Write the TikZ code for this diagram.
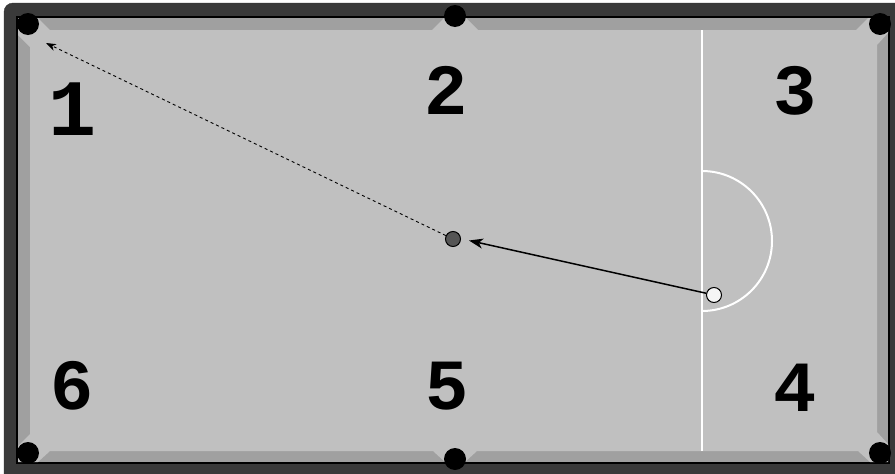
\documentclass[tikz,border=0pt]{standalone}
\usepackage{fontspec}
\newfontfamily\digitfont{Liberation Mono}
\usetikzlibrary{arrows.meta,positioning}
\definecolor{railgray}{RGB}{58,58,58}
\definecolor{cushgray}{RGB}{160,160,160}
\definecolor{feltgray}{RGB}{192,192,192}
\definecolor{ballgray}{RGB}{85,85,85}
\definecolor{cueball}{RGB}{245,245,245}

\begin{document}
\begin{tikzpicture}[x=1pt,y=-1pt,
  pocket/.style={circle,fill=black,minimum size=22pt,inner sep=0pt},
  ball/.style={circle,draw=black,line width=1pt,minimum size=15pt,inner sep=0pt},
  zonelabel/.style={font=\digitfont\bfseries\fontsize{72}{72}\selectfont,inner sep=0pt},
  shot/.style={line width=1.5pt,-{Stealth[length=14pt,width=10pt,inset=4pt]}},
  pottrace/.style={line width=0.9pt,dashed,dash pattern=on 3pt off 3pt,-{Stealth[length=10pt,width=7pt,inset=3pt]}}
]
  \useasboundingbox (0,0) rectangle (895,474);
  \clip (0,0) rectangle (895,474);
  % Table frame
  \fill[railgray,draw=black!80,rounded corners=9pt] (4,3) rectangle (910,490);
  \filldraw[fill=cushgray,draw=black,line width=2pt] (17,17) rectangle (889,463);
  % Playing surface
  \fill[feltgray] (50,30) -- (432,30) -- (444,18) -- (466,18) -- (478,30) -- (856,30)
    -- (868,18) -- (888,18) -- (888,33) -- (877,45) -- (877,432) -- (888,444)
    -- (888,462) -- (870,462) -- (858,451) -- (477,451) -- (465,462) -- (445,462)
    -- (433,451) -- (50,451) -- (38,462) -- (18,462) -- (18,446) -- (30,434)
    -- (30,47) -- (18,35) -- (18,18) -- (38,18) -- cycle;
  % Baulk line and D
  \draw[white,line width=2pt] (702,30) -- (702,451);
  \draw[white,line width=2pt] (702,171) arc[start angle=-90,end angle=90,radius=70];
  % Pockets
  \node[pocket] (p1) at (28,24) {};
  \node[pocket] (p2) at (455,16) {};
  \node[pocket] (p3) at (880,24) {};
  \node[pocket] (p4) at (880,453) {};
  \node[pocket] (p5) at (455,459) {};
  \node[pocket] (p6) at (28,453) {};
  % Zone numbers
  \node[zonelabel,font=\digitfont\bfseries\fontsize{80}{80}\selectfont] (n1) at (73,109) {1};
  \node[zonelabel] (n2) at (446,90) {2};
  \node[zonelabel] (n3) at (795,91) {3};
  \node[zonelabel] (n4) at (795,388) {4};
  \node[zonelabel] (n5) at (447,386) {5};
  \node[zonelabel] (n6) at (72,386) {6};
  % Balls
  \node[ball,fill=ballgray] (obj) at (453,239) {};
  \node[ball,fill=cueball] (cue) at (714,295) {};
  \coordinate (aim) at (46,43);
  \draw[shot] (cue) -- ([xshift=8pt,yshift=-1.5pt]obj.east);
  \draw[pottrace] (obj) -- (aim);
\end{tikzpicture}
\end{document}
